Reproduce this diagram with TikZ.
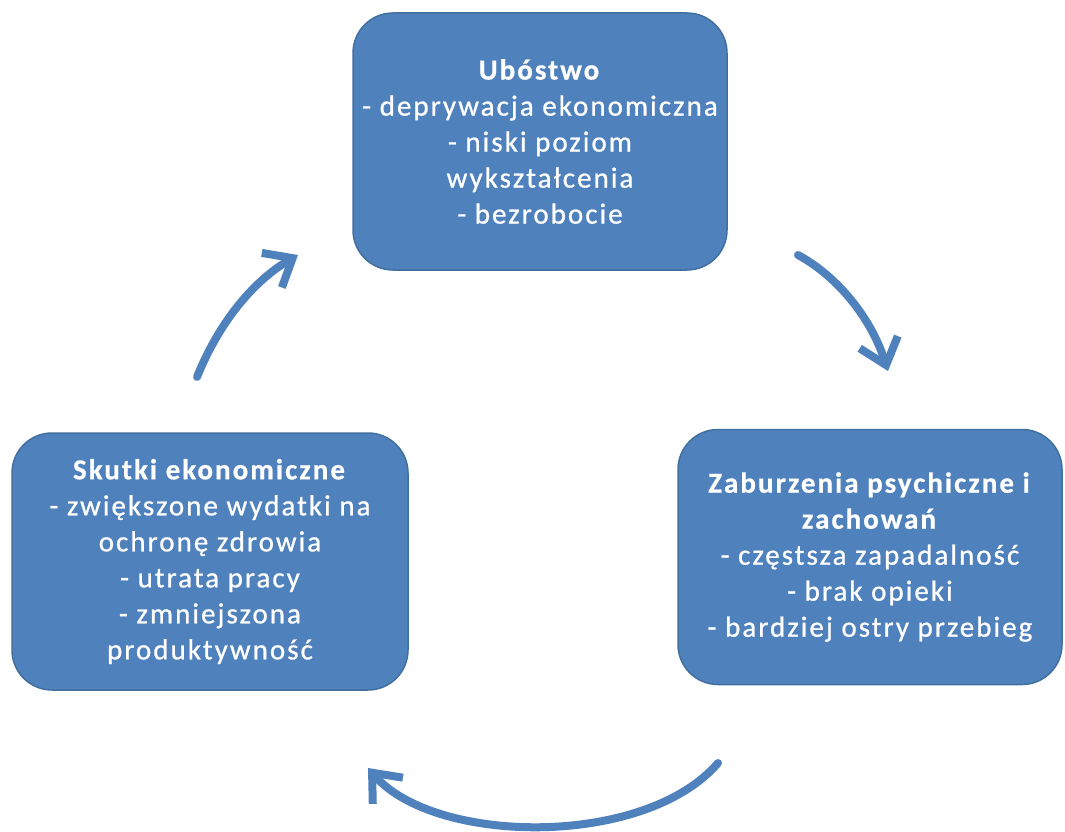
\documentclass[tikz,border=0pt]{standalone}
\usepackage{fontspec}
\setmainfont{Carlito}[LetterSpace=7,UprightFeatures={FakeBold=0.8},BoldFeatures={FakeBold=0.6}]
\usetikzlibrary{arrows.meta}
\definecolor{boxblue}{HTML}{4F81BD}
\definecolor{boxline}{HTML}{41709F}

\begin{document}
\begin{tikzpicture}[x=1pt,y=-1pt,
        box/.style={draw=boxline,line width=1.5pt,fill=boxblue,rounded corners=40pt,
            text=white,align=center,inner sep=0pt,font=\fontsize{29}{36}\selectfont},
        cyclearrow/.style={boxblue,line width=8pt,line cap=round,
            -{Straight Barb[length=24pt,width=40pt]}}]
        \useasboundingbox (0,0) rectangle (1065,832);
        % the three boxes
        \node[box,minimum width=374pt,minimum height=257pt] (ubostwo) at (540,141.5)
            {\textbf{Ubóstwo}\\- deprywacja ekonomiczna\\- niski poziom\\wykształcenia\\- bezrobocie};
        \node[box,minimum width=384pt,minimum height=255pt] (zaburzenia) at (870,557)
            {\textbf{Zaburzenia psychiczne i}\\\textbf{zachowań}\\- częstsza zapadalność\\- brak opieki\\- bardziej ostry przebieg};
        \node[box,minimum width=396pt,minimum height=257pt] (skutki) at (210,561.5)
            {\textbf{Skutki ekonomiczne}\\- zwiększone wydatki na\\ochronę zdrowia\\- utrata pracy\\- zmniejszona\\produktywność};
        % arrow ends
        \coordinate (rs) at (798,255);
        \coordinate (re) at (888,371);
        \coordinate (bs) at (718,763);
        \coordinate (be) at (368,768);
        \coordinate (ls) at (197,377);
        \coordinate (le) at (298,255);
        \draw[cyclearrow] (rs) .. controls (835,275) and (870,315) .. (re);
        \draw[cyclearrow] (bs) .. controls (645,848) and (435,845) .. (be);
        \draw[cyclearrow] (ls) .. controls (220,320) and (255,280) .. (le);
\end{tikzpicture}
\end{document}
